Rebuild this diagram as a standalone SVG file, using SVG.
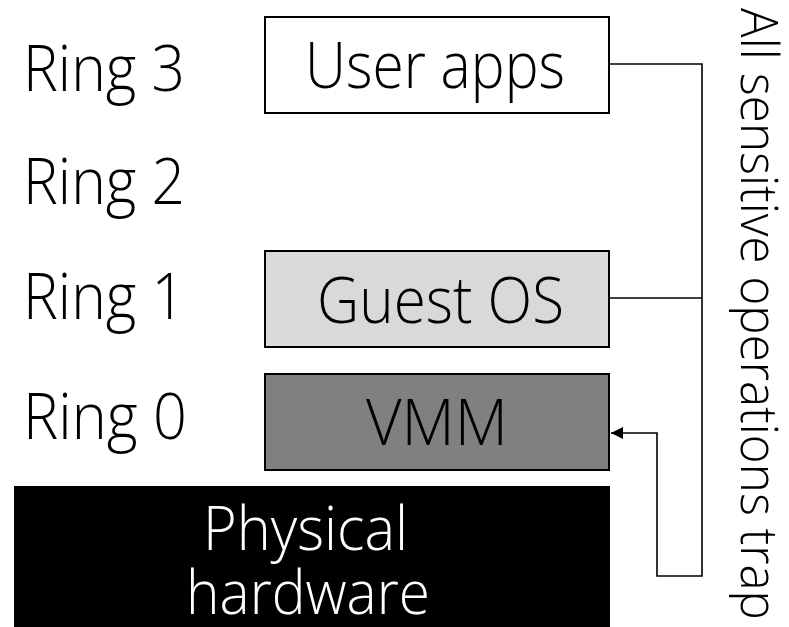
<svg xmlns="http://www.w3.org/2000/svg" width="789" height="627" viewBox="0 0 789 627">
<style>
text{font-family:"Open Sans","Noto Sans","Liberation Sans",sans-serif;font-weight:300;font-size:64px;fill:#000}
.box{stroke:#000;stroke-width:2}
.ln{fill:none;stroke:#000;stroke-width:1.6}
.w{fill:#fff;font-size:60px}
.v{font-size:52px}
</style>
<defs>
<marker id="ah" viewBox="0 0 10 10" refX="10" refY="5" markerWidth="14" markerHeight="12" markerUnits="userSpaceOnUse" orient="auto"><path d="M0,0 L10,5 L0,10 z" fill="#000"/></marker>
</defs>
<rect width="789" height="627" fill="#fff"/>
<g id="labels">
<text x="23" y="91" textLength="162" lengthAdjust="spacingAndGlyphs">Ring 3</text>
<text x="23" y="204" textLength="162" lengthAdjust="spacingAndGlyphs">Ring 2</text>
<text x="23" y="319" textLength="162" lengthAdjust="spacingAndGlyphs">Ring 1</text>
<text x="23" y="439" textLength="164" lengthAdjust="spacingAndGlyphs">Ring 0</text>
</g>
<g id="user-apps">
<rect class="box" x="265" y="17" width="344" height="96" fill="#fff"/>
<text x="305" y="88" textLength="260" lengthAdjust="spacingAndGlyphs">User apps</text>
</g>
<g id="guest-os">
<rect class="box" x="265" y="251" width="344" height="96" fill="#d9d9d9"/>
<text x="317" y="323" textLength="247" lengthAdjust="spacingAndGlyphs">Guest OS</text>
</g>
<g id="vmm">
<rect class="box" x="265" y="374" width="344" height="96" fill="#808080"/>
<text x="366" y="445" textLength="142" lengthAdjust="spacingAndGlyphs">VMM</text>
</g>
<g id="hardware">
<rect x="14" y="486" width="596" height="141" fill="#000"/>
<text class="w" x="203" y="550" textLength="205" lengthAdjust="spacingAndGlyphs">Physical</text>
<text class="w" x="186" y="614" textLength="244" lengthAdjust="spacingAndGlyphs">hardware</text>
</g>
<g id="trap-label">
<text class="v" transform="translate(741,8) rotate(90)" x="0" y="0" textLength="612" lengthAdjust="spacingAndGlyphs">All sensitive operations trap</text>
</g>
<g id="connectors">
<polyline class="ln" points="609,64 702,64 702,576 657,576 657,433 611,433" marker-end="url(#ah)"/>
<line class="ln" x1="609" y1="298" x2="702" y2="298"/>
</g>
</svg>
